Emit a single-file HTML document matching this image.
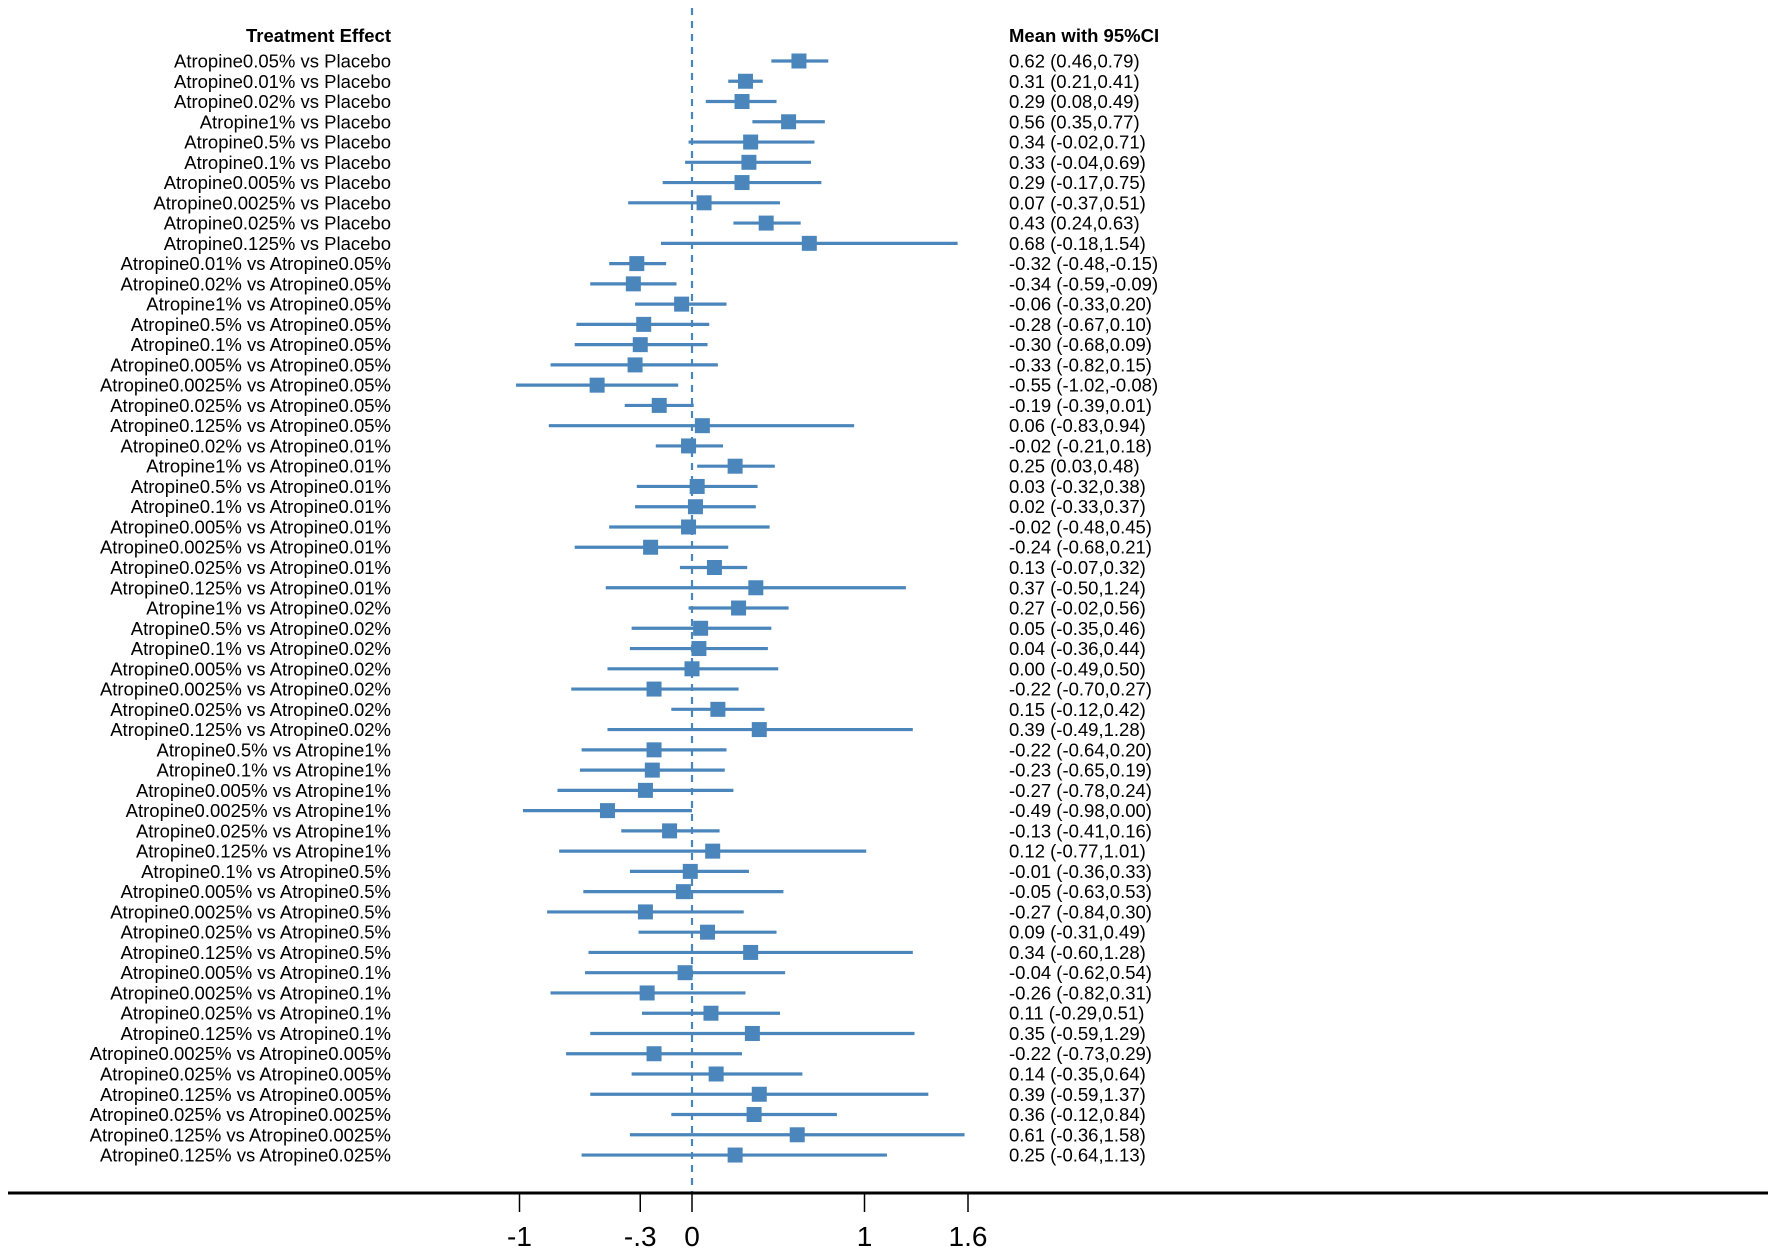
<!DOCTYPE html>
<html><head><meta charset="utf-8"><style>
html,body{margin:0;padding:0;background:#fff;}
svg{display:block;font-family:"Liberation Sans",Arial,sans-serif;}
</style></head><body>
<svg id="chart" width="1772" height="1249" viewBox="0 0 1772 1249" xmlns="http://www.w3.org/2000/svg">
<text x="391" y="42" text-anchor="end" font-size="18.5" font-weight="bold">Treatment Effect</text>
<text x="1009" y="42" font-size="18.5" font-weight="bold">Mean with 95%CI</text>
<g id="rows"></g>
</svg>
<script>
const labels=["Atropine0.05% vs Placebo","Atropine0.01% vs Placebo","Atropine0.02% vs Placebo","Atropine1% vs Placebo","Atropine0.5% vs Placebo","Atropine0.1% vs Placebo","Atropine0.005% vs Placebo","Atropine0.0025% vs Placebo","Atropine0.025% vs Placebo","Atropine0.125% vs Placebo",
"Atropine0.01% vs Atropine0.05%","Atropine0.02% vs Atropine0.05%","Atropine1% vs Atropine0.05%","Atropine0.5% vs Atropine0.05%","Atropine0.1% vs Atropine0.05%","Atropine0.005% vs Atropine0.05%","Atropine0.0025% vs Atropine0.05%","Atropine0.025% vs Atropine0.05%","Atropine0.125% vs Atropine0.05%",
"Atropine0.02% vs Atropine0.01%","Atropine1% vs Atropine0.01%","Atropine0.5% vs Atropine0.01%","Atropine0.1% vs Atropine0.01%","Atropine0.005% vs Atropine0.01%","Atropine0.0025% vs Atropine0.01%","Atropine0.025% vs Atropine0.01%","Atropine0.125% vs Atropine0.01%",
"Atropine1% vs Atropine0.02%","Atropine0.5% vs Atropine0.02%","Atropine0.1% vs Atropine0.02%","Atropine0.005% vs Atropine0.02%","Atropine0.0025% vs Atropine0.02%","Atropine0.025% vs Atropine0.02%","Atropine0.125% vs Atropine0.02%",
"Atropine0.5% vs Atropine1%","Atropine0.1% vs Atropine1%","Atropine0.005% vs Atropine1%","Atropine0.0025% vs Atropine1%","Atropine0.025% vs Atropine1%","Atropine0.125% vs Atropine1%",
"Atropine0.1% vs Atropine0.5%","Atropine0.005% vs Atropine0.5%","Atropine0.0025% vs Atropine0.5%","Atropine0.025% vs Atropine0.5%","Atropine0.125% vs Atropine0.5%",
"Atropine0.005% vs Atropine0.1%","Atropine0.0025% vs Atropine0.1%","Atropine0.025% vs Atropine0.1%","Atropine0.125% vs Atropine0.1%",
"Atropine0.0025% vs Atropine0.005%","Atropine0.025% vs Atropine0.005%","Atropine0.125% vs Atropine0.005%",
"Atropine0.025% vs Atropine0.0025%","Atropine0.125% vs Atropine0.0025%","Atropine0.125% vs Atropine0.025%"];
const means=[0.62,0.31,0.29,0.56,0.34,0.33,0.29,0.07,0.43,0.68,
-0.32,-0.34,-0.06,-0.28,-0.30,-0.33,-0.55,-0.19,0.06,
-0.02,0.25,0.03,0.02,-0.02,-0.24,0.13,0.37,
0.27,0.05,0.04,0.00,-0.22,0.15,0.39,
-0.22,-0.23,-0.27,-0.49,-0.13,0.12,
-0.01,-0.05,-0.27,0.09,0.34,
-0.04,-0.26,0.11,0.35,
-0.22,0.14,0.39,
0.36,0.61,0.25];
const lows=[0.46,0.21,0.08,0.35,-0.02,-0.04,-0.17,-0.37,0.24,-0.18,
-0.48,-0.59,-0.33,-0.67,-0.68,-0.82,-1.02,-0.39,-0.83,
-0.21,0.03,-0.32,-0.33,-0.48,-0.68,-0.07,-0.50,
-0.02,-0.35,-0.36,-0.49,-0.70,-0.12,-0.49,
-0.64,-0.65,-0.78,-0.98,-0.41,-0.77,
-0.36,-0.63,-0.84,-0.31,-0.60,
-0.62,-0.82,-0.29,-0.59,
-0.73,-0.35,-0.59,
-0.12,-0.36,-0.64];
const highs=[0.79,0.41,0.49,0.77,0.71,0.69,0.75,0.51,0.63,1.54,
-0.15,-0.09,0.20,0.10,0.09,0.15,-0.08,0.01,0.94,
0.18,0.48,0.38,0.37,0.45,0.21,0.32,1.24,
0.56,0.46,0.44,0.50,0.27,0.42,1.28,
0.20,0.19,0.24,0.00,0.16,1.01,
0.33,0.53,0.30,0.49,1.28,
0.54,0.31,0.51,1.29,
0.29,0.64,1.37,
0.84,1.58,1.13];
const tickValues=[-1,-0.3,0,1,1.6];
const tickLabels=["-1","-.3","0","1","1.6"];

const NS="http://www.w3.org/2000/svg";
const svg=document.getElementById('chart');
const g=document.getElementById('rows');
const xScale=v=>692+v*172.5;
const yScale=i=>61+i*20.26;
const col="#4a86bb";
function mk(tag,attrs,parent){const e=document.createElementNS(NS,tag);for(const k in attrs)e.setAttribute(k,attrs[k]);(parent||svg).appendChild(e);return e;}

const ref=mk('line',{x1:xScale(0),x2:xScale(0),y1:8,y2:1192,stroke:col,'stroke-width':2.2,'stroke-dasharray':'7,6'});



const fmt=v=>v.toFixed(2);
labels.forEach((lab,i)=>{
  const y=yScale(i);
  const t=mk('text',{x:391,y:y+6.5,'text-anchor':'end','font-size':18.5},g);
  t.textContent=lab;
  
  
  const ci=mk('line',{x1:xScale(lows[i]),x2:xScale(highs[i]),y1:y,y2:y,stroke:col,'stroke-width':3.2},g);
  
  
  const sq=mk('rect',{x:xScale(means[i])-7.5,y:y-7.5,width:15,height:15,fill:col},g);
  
  
  const v=mk('text',{x:1009,y:y+6.5,'font-size':18.5},g);
  v.textContent=fmt(means[i])+" ("+fmt(lows[i])+","+fmt(highs[i])+")";
  
  
});

const ax=mk('line',{x1:8,x2:1768,y1:1193,y2:1193,stroke:'#000','stroke-width':3});


tickValues.forEach((tv,i)=>{
  const x=xScale(tv);
  const tk=mk('line',{x1:x,x2:x,y1:1193,y2:1212,stroke:'#000','stroke-width':1.5});
  
  
  const tl=mk('text',{x:x,y:1246,'text-anchor':'middle','font-size':28});
  tl.textContent=tickLabels[i];
  
  
});
</script>
</body></html>
